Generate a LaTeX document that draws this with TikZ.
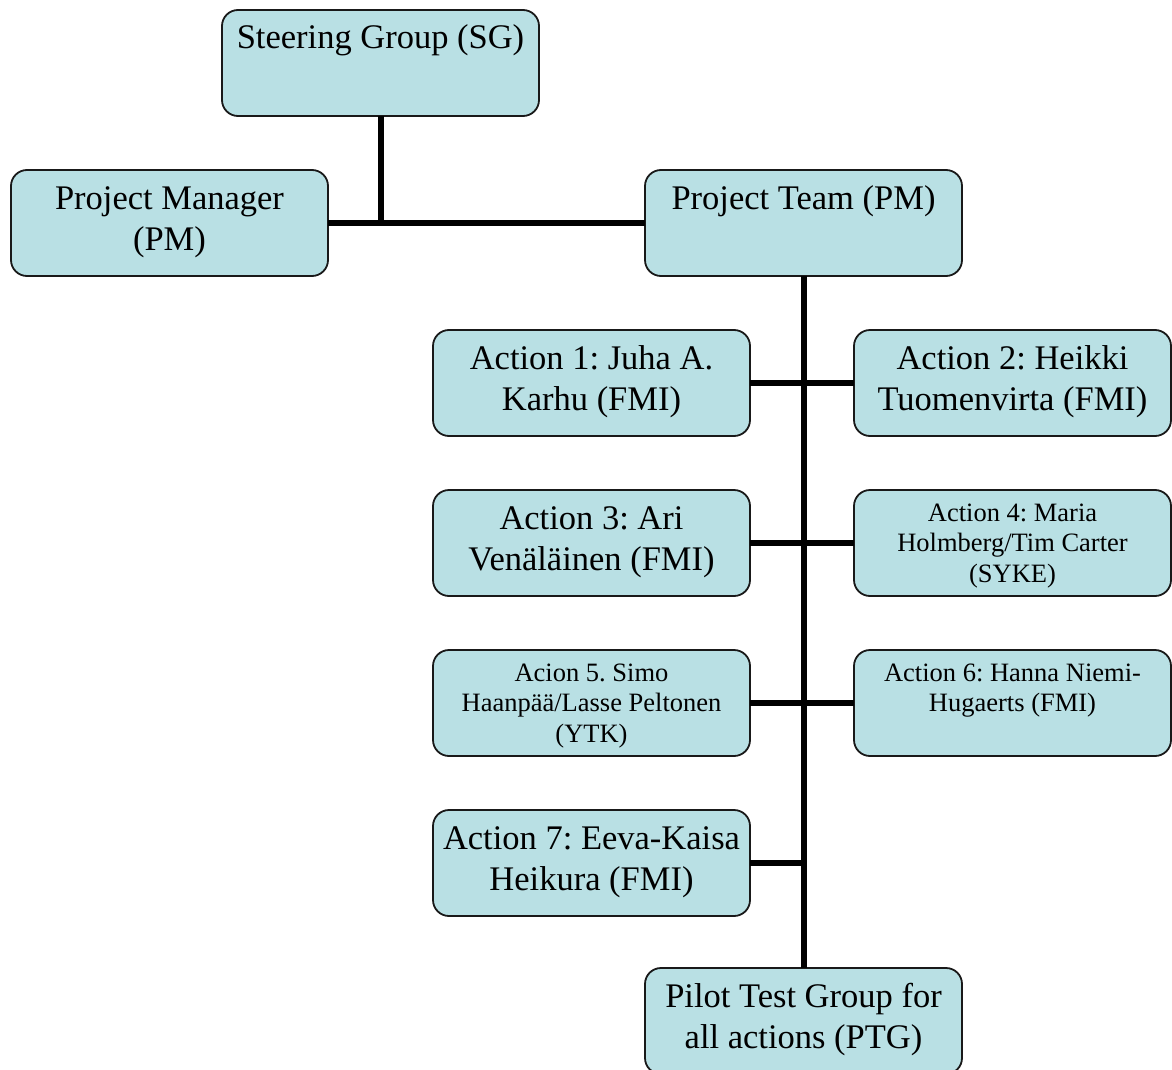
\documentclass[tikz,border=0pt]{standalone}
\usepackage{fontspec}
\setmainfont{Liberation Serif}
\frenchspacing
\definecolor{boxfill}{RGB}{185,224,228}
\definecolor{boxline}{RGB}{25,25,25}
\newcommand{\bigtxt}[1]{\parbox[c][106pt][t]{317pt}{\centering\frenchspacing\fontsize{34.5}{41}\selectfont\rule{0pt}{39pt}#1}}
\newcommand{\smalltxt}[1]{\parbox[c][106pt][t]{317pt}{\centering\frenchspacing\fontsize{26.5}{30.5}\selectfont\rule{0pt}{31pt}#1}}
\begin{document}
\begin{tikzpicture}[x=1pt,y=-1pt,
  orgbox/.style={draw=boxline, fill=boxfill, line width=1.8pt, rounded corners=16pt, inner sep=0pt, outer sep=0pt},
  link/.style={line width=6pt, draw=black}]
\useasboundingbox (0,0) rectangle (1172,1070);
\node[orgbox] (sg) at (380.5,63) {\bigtxt{Steering Group (SG)}};
\node[orgbox] (pm) at (169.5,223) {\bigtxt{Project Manager\\(PM)}};
\node[orgbox] (pt) at (803.5,223) {\bigtxt{Project Team (PM)}};
\node[orgbox] (a1) at (591.5,383) {\bigtxt{Action 1: Juha A.\\Karhu (FMI)}};
\node[orgbox] (a2) at (1012.5,383) {\bigtxt{Action 2: Heikki\\Tuomenvirta (FMI)}};
\node[orgbox] (a3) at (591.5,543) {\bigtxt{Action 3: Ari\\Venäläinen (FMI)}};
\node[orgbox] (a4) at (1012.5,543) {\smalltxt{Action 4: Maria\\Holmberg/Tim Carter\\(SYKE)}};
\node[orgbox] (a5) at (591.5,703) {\smalltxt{Acion 5. Simo\\Haanpää/Lasse Peltonen\\(YTK)}};
\node[orgbox] (a6) at (1012.5,703) {\smalltxt{Action 6: Hanna Niemi-\\Hugaerts (FMI)}};
\node[orgbox] (a7) at (591.5,863) {\bigtxt{Action 7: Eeva-Kaisa\\Heikura (FMI)}};
\node[orgbox] (ptg) at (803.5,1021) {\bigtxt{Pilot Test Group for\\all actions (PTG)}};
\draw[link] (sg.south) -- (sg.south |- pm.east);
\draw[link] (pm.east) -- (pt.west);
\draw[link] (pt.south) -- (ptg.north);
\draw[link] (a1.east) -- (a2.west);
\draw[link] (a3.east) -- (a4.west);
\draw[link] (a5.east) -- (a6.west);
\draw[link] (a7.east) -- (a7.east -| pt.south);
\end{tikzpicture}
\end{document}
